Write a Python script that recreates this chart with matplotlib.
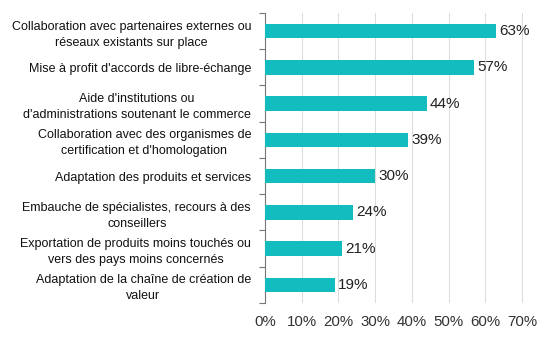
import numpy as np
import matplotlib.pyplot as plt

categories = [
    "Collaboration avec partenaires externes ou\nréseaux existants sur place",
    "Mise à profit d'accords de libre-échange",
    "Aide d'institutions ou\nd'administrations soutenant le commerce",
    "Collaboration avec des organismes de\ncertification et d'homologation",
    "Adaptation des produits et services",
    "Embauche de spécialistes, recours à des\nconseillers",
    "Exportation de produits moins touchés ou\nvers des pays moins concernés",
    "Adaptation de la chaîne de création de\nvaleur",
]
values = [63, 57, 44, 39, 30, 24, 21, 19]
xticks = [0, 10, 20, 30, 40, 50, 60, 70]

plt.rcParams['font.family'] = ['Liberation Sans', 'DejaVu Sans']

fig = plt.figure(figsize=(5.55, 3.43), dpi=100)
ax = fig.add_axes([0.4775, 0.117, 0.465, 0.845])

y = np.arange(len(categories))
ax.barh(y, values, height=0.4, color="#13BDBF", zorder=3)
for yi, v in zip(y, values):
    ax.text(v + 0.8, yi, f"{v}%", va="center", ha="left", fontsize=11, color="#222222")

ax.set_ylim(len(categories) - 0.5, -0.5)
ax.set_xlim(0, 70.3)
ax.set_xticks(xticks)
ax.set_xticklabels([f"{t}%" for t in xticks], fontsize=10.8, color="#333333")
ax.tick_params(axis="x", length=0, pad=9)

ax.set_yticks(y)
ax.set_yticklabels(categories, fontsize=9.0, color="#111111", linespacing=1.45)
for lab in ax.get_yticklabels():
    lab.set_multialignment("center")
ax.tick_params(axis="y", which="major", length=0, pad=10)
ax.set_yticks(np.arange(-0.5, len(categories), 1), minor=True)
ax.tick_params(axis="y", which="minor", length=4, color="#777777", width=0.8)

ax.grid(axis="x", color="#DDDDDD", linewidth=0.8, zorder=0)
for s in ["top", "right", "bottom"]:
    ax.spines[s].set_visible(False)
ax.spines["left"].set_color("#777777")
ax.spines["left"].set_linewidth(0.8)

fig.savefig("out.png", dpi=100)
